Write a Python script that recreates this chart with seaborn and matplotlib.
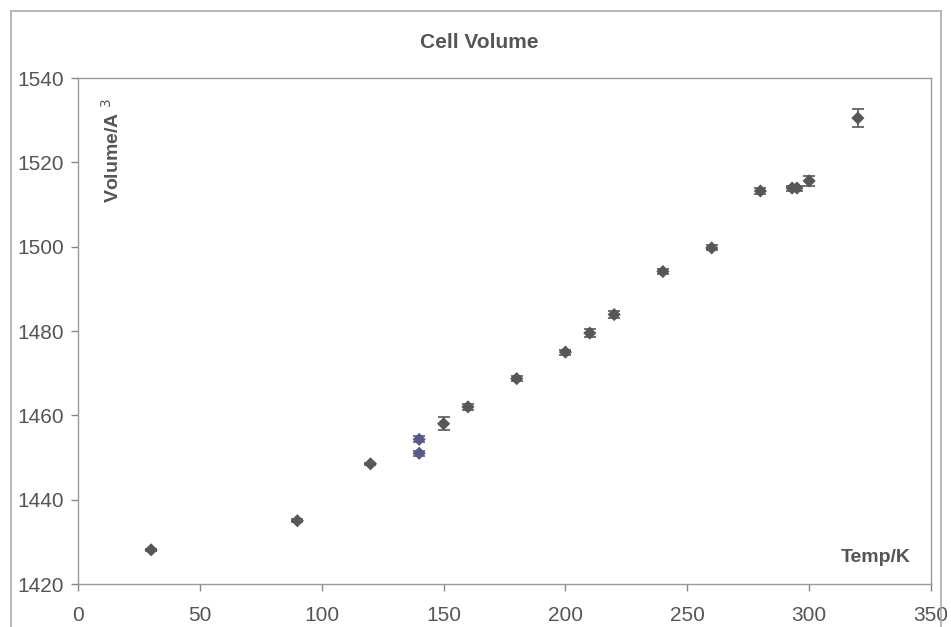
import numpy as np
import pandas as pd
import seaborn as sns
import matplotlib
matplotlib.use("Agg")
import matplotlib.pyplot as plt
from matplotlib.patches import Rectangle

# ---- data ----
temps = [30, 90, 120, 140, 140, 150, 160, 180, 200, 210, 220, 240, 260, 280, 293, 295, 300, 320]
volumes = [1428.1, 1435.0, 1448.5, 1454.3, 1451.0, 1458.0, 1462.0, 1468.7, 1475.0, 1479.5,
           1483.9, 1494.1, 1499.7, 1513.2, 1513.9, 1513.9, 1515.6, 1530.5]
errors = [0.3, 0.3, 0.3, 0.7, 0.6, 1.5, 0.8, 0.6, 0.6, 0.9, 0.8, 0.7, 0.6, 0.8, 0.6, 0.6, 1.2, 2.1]
groups = ["a", "a", "a", "b", "b", "a", "a", "a", "a", "a", "a", "a", "a", "a", "a", "a", "a", "a"]
x_ticks = [0, 50, 100, 150, 200, 250, 300, 350]
y_ticks = [1420, 1440, 1460, 1480, 1500, 1520, 1540]

df = pd.DataFrame({"Temp": temps, "Volume": volumes, "err": errors, "grp": groups})

sns.set_theme(style="white")
plt.rcParams["font.family"] = ["Liberation Sans", "DejaVu Sans"]

fig = plt.figure(figsize=(9.51, 6.27), dpi=100)
fig.patch.set_facecolor("white")
ax = fig.add_axes([78 / 951, 1 - 584 / 627, (931 - 78) / 951, (584 - 78) / 627])

grey = "#555555"
palette = {"a": "#575757", "b": "#5a5a86"}

for g, sub in df.groupby("grp"):
    ax.errorbar(sub["Temp"], sub["Volume"], yerr=sub["err"], fmt="none",
                ecolor=palette[g], elinewidth=1.2, capsize=4, capthick=1.2, zorder=2)

sns.scatterplot(data=df, x="Temp", y="Volume", hue="grp", palette=palette,
                marker="D", s=45, edgecolor="none", legend=False, ax=ax, zorder=3)

ax.set_xlim(0, 350)
ax.set_ylim(1420, 1540)
ax.set_xticks(x_ticks)
ax.set_yticks(y_ticks)
ax.set_xlabel("")
ax.set_ylabel("")
ax.tick_params(axis="both", direction="out", length=5, width=1, color="#888888",
               labelsize=15, labelcolor="#555555")
ax.tick_params(axis="x", bottom=True, pad=11)
ax.tick_params(axis="y", left=True, pad=5)
for sp in ax.spines.values():
    sp.set_color("#999999")
    sp.set_linewidth(1.0)

# in-plot axis labels (Excel style)
fig.text(112 / 951, 1 - 150 / 627, "Volume/A $^{3}$", rotation=90, ha="center", va="center",
         fontsize=14, fontweight="bold", color=grey)
ax.text(0.976, 0.052, "Temp/K", transform=ax.transAxes, ha="right", va="center",
        fontsize=14, fontweight="bold", color=grey)

# chart title
fig.text(479 / 951, 1 - 43 / 627, "Cell Volume", ha="center", va="center",
         fontsize=15, fontweight="bold", color=grey)

# outer chart border
fig.patches.append(Rectangle((11 / 951, -0.05), (941 - 11) / 951, 1.05 - 11 / 627,
                             transform=fig.transFigure, fill=False,
                             edgecolor="#aaaaaa", linewidth=1.2, zorder=0))

fig.savefig("out.png", dpi=100, facecolor="white")
